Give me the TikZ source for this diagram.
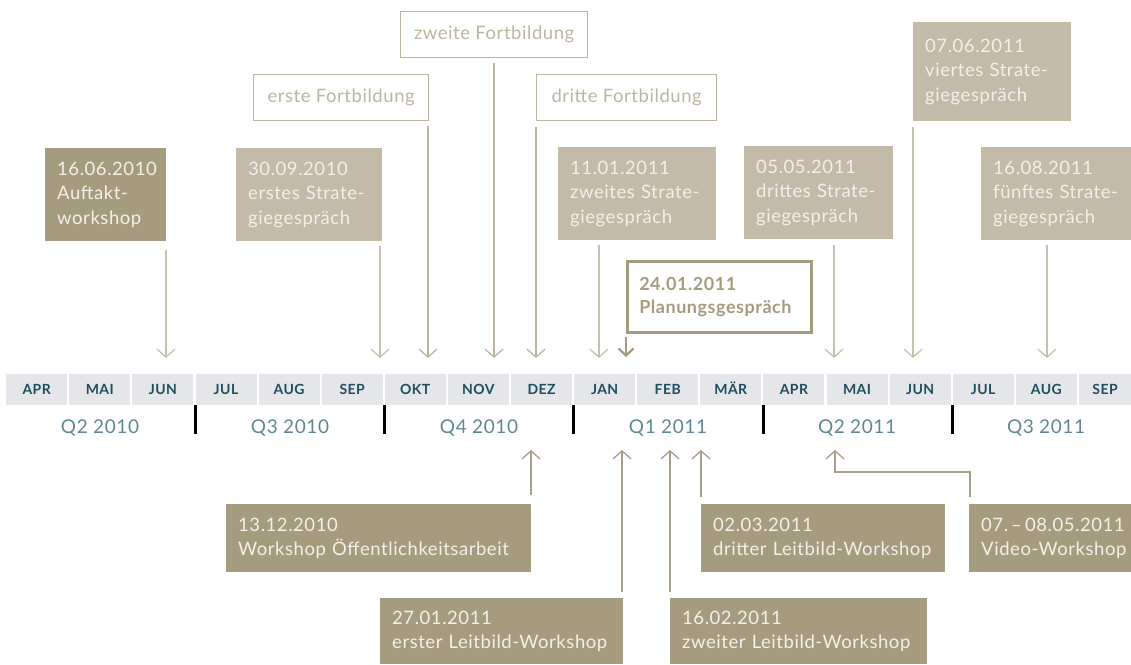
\documentclass[tikz,border=0pt]{standalone}
\usepackage{fontspec}
\setmainfont{Lato}[LetterSpace=3]
\usetikzlibrary{arrows.meta,calc}
\definecolor{dark}{HTML}{A59C80}
\definecolor{light}{HTML}{C3BBA7}
\definecolor{outl}{HTML}{BDB59D}
\definecolor{evtext}{HTML}{F3F0E9}
\definecolor{cell}{HTML}{E5E6EA}
\definecolor{mtext}{HTML}{1F4E5F}
\definecolor{qtext}{HTML}{5F8793}
\definecolor{arrdark}{HTML}{A8A086}
\definecolor{arrlight}{HTML}{C8C1AF}
\tikzset{
  box/.style={anchor=north west, inner xsep=12pt, inner ysep=0pt, align=left, text=evtext,
    font=\fontsize{18.5}{24.5}\selectfont},
  darkbox/.style={box, fill=dark},
  lightbox/.style={box, fill=light},
  fbox/.style={anchor=north west, inner sep=0pt, align=center, draw=outl, line width=1.3pt,
    text=outl, font=\fontsize{18.5}{24}\selectfont},
  pbox/.style={anchor=north west, inner xsep=12pt, inner ysep=0pt, align=left, draw=dark, line width=2.5pt,
    text=dark, font=\fontsize{18}{23}\selectfont\bfseries},
  arr/.style={draw=arrlight, line width=1.3pt, -{Straight Barb[length=8pt,width=18pt,line width=1.3pt]}},
  arrd/.style={arr, draw=arrdark},
  arrf/.style={arr, draw=outl},
  arrp/.style={draw=dark, line width=2.2pt, -{Straight Barb[length=7pt,width=15pt,line width=2.2pt]}},
  mcell/.style={anchor=north west, fill=cell, inner sep=0pt, minimum height=31pt,
    text height=10pt, text depth=0pt,
    text=mtext, font=\fontsize{14}{14}\selectfont\bfseries},
  qlab/.style={text=qtext, font=\fontsize{19}{19}\selectfont},
  qsep/.style={draw=black, line width=3pt}
}
\newcommand{\evnode}[7]{%
  \node[#1, minimum width=#5pt, minimum height=#6pt, text width=\dimexpr#5pt-24pt\relax] (#2) at (#3,#4) {#7};}
\begin{document}
\begin{tikzpicture}[x=1pt,y=-1pt]
\useasboundingbox (0,0) rectangle (1131,664);
% month bar
\foreach \m [count=\i] in {APR,MAI,JUN,JUL,AUG,SEP,OKT,NOV,DEZ,JAN,FEB,MÄR,APR,MAI,JUN,JUL,AUG,SEP} {
  \pgfmathsetmacro{\xx}{6+(\i-1)*63.1}
  \pgfmathsetmacro{\ww}{\i==18 ? 1131-\xx : 61}
  \node[mcell, minimum width=\ww pt] (m\i) at (\xx,374) {\m};
}
% quarter separators
\foreach \k in {1,2,3,4,5} {
  \pgfmathsetmacro{\xs}{6+3*\k*63.1}
  \draw[qsep] (\xs,405) -- (\xs,434);
}
\node[qlab] (q1) at (100,428) {Q2 2010};
\node[qlab] (q2) at (290,428) {Q3 2010};
\node[qlab] (q3) at (479,428) {Q4 2010};
\node[qlab] (q4) at (668,428) {Q1 2011};
\node[qlab] (q5) at (857,428) {Q2 2011};
\node[qlab] (q6) at (1046,428) {Q3 2011};

% top events
\evnode{darkbox}{a1}{45}{148}{121}{93}{16.06.2010\\Auftakt-\\workshop}
\evnode{lightbox}{a2}{236}{148}{146}{93}{30.09.2010\\erstes Strate-\\giegespräch}
\node[fbox, minimum width=175pt, minimum height=46pt] (f1) at (253,74) {erste Fortbildung};
\node[fbox, minimum width=187pt, minimum height=46pt] (f2) at (400,11) {zweite Fortbildung};
\node[fbox, minimum width=180pt, minimum height=46pt] (f3) at (536,74) {dritte Fortbildung};
\evnode{lightbox}{a3}{558}{147}{158}{93}{11.01.2011\\zweites Strate-\\giegespräch}
\evnode{pbox}{p}{626}{260}{184}{71}{24.01.2011\\Planungsgespräch}
\evnode{lightbox}{a4}{744}{146}{149}{93}{05.05.2011\\drittes Strate-\\giegespräch}
\evnode{lightbox}{a5}{913}{22}{158}{99}{07.06.2011\\viertes Strate-\\giegespräch}
\evnode{lightbox}{a6}{981}{147}{150}{93}{16.08.2011\\fünftes Strate-\\giegespräch}

% bottom events
\evnode{darkbox}{b1}{226}{504}{305}{68}{13.12.2010\\Workshop Öffentlichkeitsarbeit}
\evnode{darkbox}{b2}{380}{598}{243}{66}{27.01.2011\\erster Leitbild-Workshop}
\evnode{darkbox}{b3}{670}{598}{257}{66}{16.02.2011\\zweiter Leitbild-Workshop}
\evnode{darkbox}{b4}{701}{504}{244}{68}{02.03.2011\\dritter Leitbild-Workshop}
\evnode{darkbox}{b5}{969}{504}{162}{68}{\mbox{07.\,–\,08.05.2011}\\\mbox{Video-Workshop}}

% arrow targets
\coordinate (t1) at (166,358);
\coordinate (t2) at (380,358);
\coordinate (t3) at (428,358);
\coordinate (t4) at (494,358);
\coordinate (t5) at (536,358);
\coordinate (t6) at (599,358);
\coordinate (t7) at (626,357);
\coordinate (t8) at (834,358);
\coordinate (t9) at (913,358);
\coordinate (t10) at (1047,358);
\coordinate (u1) at (531,450);
\coordinate (u2) at (622,450);
\coordinate (u3) at (670,450);
\coordinate (u4) at (701,450);
\coordinate (u5) at (835,450);

\draw[arr] ($(a1.south -| t1)+(0,9)$) -- (t1);
\draw[arr] ($(a2.south -| t2)+(0,5)$) -- (t2);
\draw[arrf] ($(f1.south -| t3)+(0,5)$) -- (t3);
\draw[arrf] ($(f2.south -| t4)+(0,5)$) -- (t4);
\draw[arrf] ($(f3.south -| t5)+(0,6)$) -- (t5);
\draw[arr] ($(a3.south -| t6)+(0,5)$) -- (t6);
\draw[arrp] ($(p.south -| t7)+(0,3)$) -- (t7);
\draw[arr] ($(a4.south -| t8)+(0,6)$) -- (t8);
\draw[arr] ($(a5.south -| t9)+(0,6)$) -- (t9);
\draw[arr] ($(a6.south -| t10)+(0,5)$) -- (t10);

\draw[arrd] ($(b1.north -| u1)+(0,-9)$) -- (u1);
\draw[arrd] ($(b2.north -| u2)+(0,-6)$) -- (u2);
\draw[arrd] ($(b3.north -| u3)+(0,-6)$) -- (u3);
\draw[arrd] ($(b4.north -| u4)+(0,-7)$) -- (u4);
\draw[arrd] ($(b5.north west)+(1,-7)$) |- ($(u5)+(0,22)$) -- (u5);
\end{tikzpicture}
\end{document}
